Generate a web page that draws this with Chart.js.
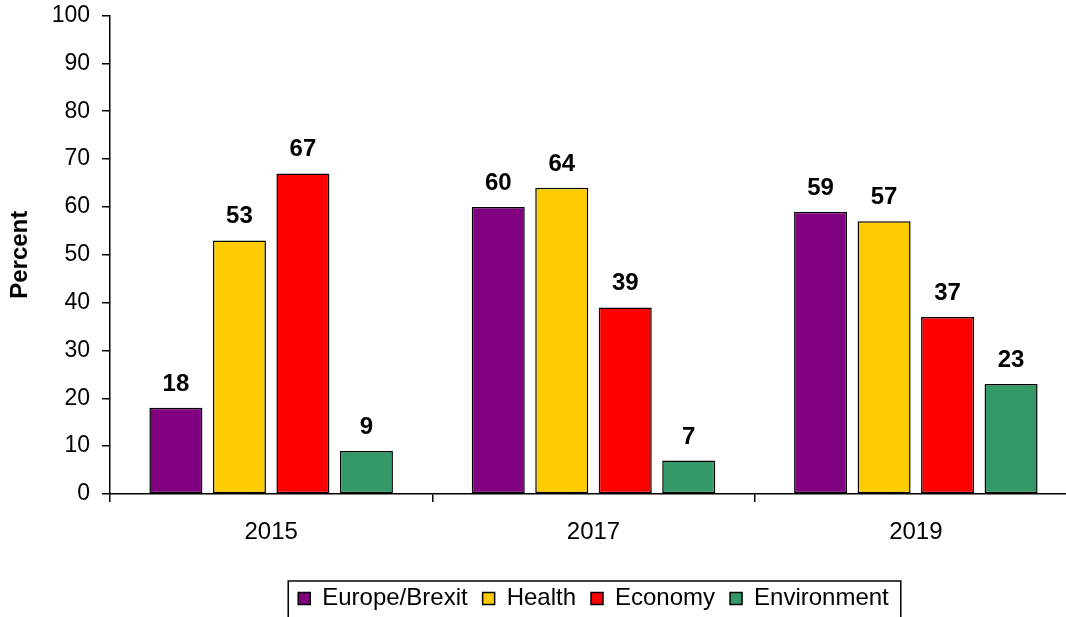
<!DOCTYPE html>
<html>
<head>
<meta charset="utf-8">
<style>
  html, body { margin: 0; padding: 0; background: #fff; overflow: hidden; width: 1066px; height: 617px; }
  #wrap { position: absolute; left: 0; top: 0; width: 1090px; height: 640px; }
</style>
<script src="https://cdn.jsdelivr.net/npm/chart.js@4.4.1/dist/chart.umd.min.js"></script>
</head>
<body>
<div id="wrap"><canvas id="c" width="1090" height="640"></canvas></div>
<script>
// ---- data ----
const categories = ['2015', '2017', '2019'];
const seriesNames = ['Europe/Brexit', 'Health', 'Economy', 'Environment'];
const europeBrexit = [18, 60, 59];
const health = [53, 64, 57];
const economy = [67, 39, 37];
const environment = [9, 7, 23];
const yMin = 0, yMax = 100, yStep = 10;
const yTitle = 'Percent';

// ---- styles ----
const colors = ['#800080', '#FFCC00', '#FF0000', '#339966'];
const FONT = '"Liberation Sans", Arial, Helvetica, sans-serif';

const seriesValues = [europeBrexit, health, economy, environment];
const datasets = seriesNames.map((name, i) => ({
  label: name,
  data: seriesValues[i],
  backgroundColor: colors[i],
  borderColor: '#000000',
  borderWidth: 1.5,
  borderSkipped: false,
  categoryPercentage: 0.788,
  barPercentage: 0.835
}));

const valueLabels = {
  id: 'valueLabels',
  afterDatasetsDraw(chart) {
    const ctx = chart.ctx;
    ctx.save();
    ctx.font = 'bold 24px ' + FONT;
    ctx.fillStyle = '#000';
    ctx.textAlign = 'center';
    ctx.textBaseline = 'alphabetic';
    chart.data.datasets.forEach((ds, di) => {
      const meta = chart.getDatasetMeta(di);
      meta.data.forEach((bar, j) => {
        ctx.fillText(String(ds.data[j]), bar.x, bar.y - 17);
      });
    });
    ctx.restore();
  }
};

const legendBorder = {
  id: 'legendBorder',
  afterDraw(chart) {
    const boxes = chart.legend && chart.legend.legendHitBoxes;
    if (!boxes || !boxes.length) return;
    let l = Infinity, r = -Infinity;
    boxes.forEach(b => { l = Math.min(l, b.left); r = Math.max(r, b.left + b.width); });
    const cy = boxes[0].top + boxes[0].height / 2;
    const ctx = chart.ctx;
    ctx.save();
    ctx.strokeStyle = '#000';
    ctx.lineWidth = 1.5;
    ctx.strokeRect(l - 10, cy - 17.5, (r - l) + 22, 80);
    ctx.restore();
  }
};

new Chart(document.getElementById('c'), {
  type: 'bar',
  data: { labels: categories, datasets },
  plugins: [valueLabels, legendBorder],
  options: {
    responsive: false,
    animation: false,
    devicePixelRatio: 1,
    layout: { padding: { left: 0, right: 13, top: 15.5, bottom: 19.5 } },
    plugins: {
      tooltip: { enabled: false },
      legend: {
        display: true,
        position: 'bottom',
        fullSize: false,
        labels: {
          boxWidth: 12,
          boxHeight: 12,
          padding: 15,
          color: '#000',
          font: { family: FONT, size: 24 }
        }
      }
    },
    scales: {
      x: {
        offset: true,
        grid: { display: true, offset: true, drawOnChartArea: false, drawTicks: true, tickLength: 8, color: '#000', lineWidth: 1.5 },
        border: { display: true, color: '#000', width: 1.5 },
        ticks: { color: '#000', font: { family: FONT, size: 24 }, padding: 15.5, maxRotation: 0 },
        afterFit(scale) { scale.height = 77.5; }
      },
      y: {
        min: yMin,
        max: yMax,
        ticks: { stepSize: yStep, color: '#000', font: { family: FONT, size: 23 }, padding: 12 },
        grid: { display: true, drawOnChartArea: false, drawTicks: true, tickLength: 8, color: '#000', lineWidth: 1.5 },
        border: { display: true, color: '#000', width: 1.5 },
        title: { display: true, text: yTitle, color: '#000', font: { family: FONT, size: 24, weight: 'bold' }, padding: { top: 6, bottom: 0 } },
        afterFit(scale) { scale.width = 110; scale.paddingTop = 0; scale.paddingBottom = 0; }
      }
    }
  }
});
</script>
</body>
</html>
